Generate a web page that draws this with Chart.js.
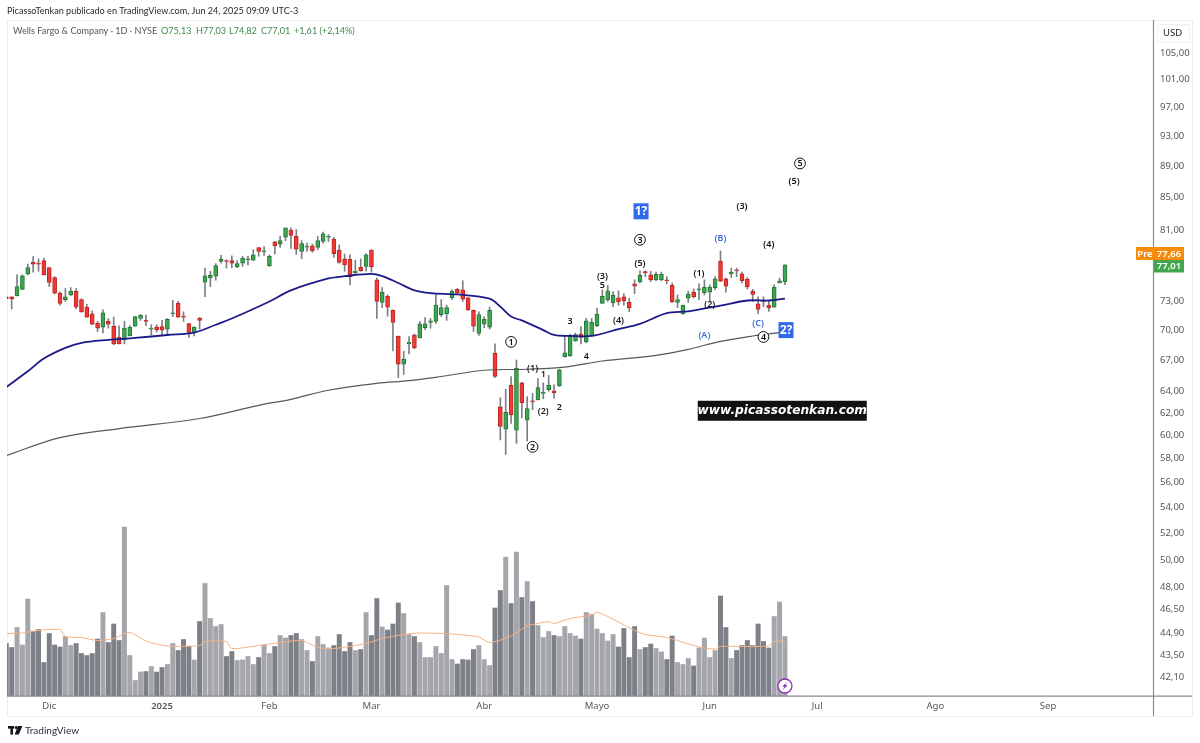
<!DOCTYPE html>
<html><head><meta charset="utf-8">
<style>html,body{margin:0;padding:0;background:#fff}canvas{display:block}</style>
<script src="https://cdn.jsdelivr.net/npm/chart.js@4"></script>
</head><body><div style="width:1200px;height:743px"><canvas id="c" width="1200" height="743"></canvas></div>
<script>
const opens=[73.5,73.5,73.6,74.3,76.0,77.3,77.2,77.5,76.7,75.6,73.9,73.2,73.7,74.1,73.2,72.4,71.7,70.7,70.3,70.9,70.4,69.25,69.0,69.4,70.4,71.2,71.0,70.1,70.3,70.35,70.1,71.7,72.8,71.4,70.67,69.7,71.25,75.1,75.55,75.75,77.4,77.5,77.5,76.8,77.2,77.6,77.55,79.0,78.5,76.9,
79.65,79.4,80.2,81.05,80.3,78.55,79.05,79.2,79.0,79.7,80.2,79.95,78.7,77.7,77.65,76.15,76.75,76.85,78.7,75.35,72.9,73.55,72.05,69.4,66.6,68.6,69.5,69.2,70.25,70.8,70.9,71.6,71.7,73.4,74.3,74.25,73.4,72.05,69.65,70.6,70.3,
67.65,62.55,60.55,64.55,60.45,64.8,61.35,63.1,63.2,63.8,64.15,64.05,64.5,67.3,67.4,68.9,69.6,68.8,69.45,70.45,72.8,73.15,72.85,73.4,73.5,72.9,74.9,75.15,76.2,75.9,75.35,75.35,75.3,74.75,72.9,71.7,73.35,74.0,74.25,73.95,74.0,74.5,77.45,75.45,76.0,76.4,76.0,75.4,74.1,72.75,73.15,72.6,72.4,75.0,75.13];
const closes=[73.3,73.3,74.6,75.8,76.7,77.1,77.1,75.9,75.05,73.9,72.8,73.5,74.1,72.4,71.9,71.35,70.6,70.2,71.8,70.6,68.6,68.6,70.2,70.3,71.4,71.55,70.9,70.2,70.05,70.0,71.1,71.8,71.35,71.35,69.75,70.3,71.0,75.8,75.85,76.95,77.65,77.4,77.2,77.15,77.75,77.7,78.15,78.55,78.5,78.0,
79.2,79.8,81.3,80.4,78.8,79.45,79.1,78.6,79.8,80.6,80.2,78.3,77.3,77.0,75.7,76.3,76.35,78.15,76.8,73.0,74.0,72.4,70.8,66.6,67.1,68.75,68.2,70.65,70.65,70.95,72.6,72.35,72.35,74.1,73.95,73.25,72.1,70.4,71.6,71.1,72.05,
65.4,60.8,62.05,61.85,66.2,62.95,62.4,63.0,64.35,63.85,64.55,63.85,66.05,67.7,69.4,69.55,69.25,70.95,70.8,71.65,73.55,74.15,73.65,72.95,73.05,72.3,74.65,75.85,76.15,75.35,75.95,75.95,75.25,72.95,73.2,72.6,73.8,73.5,74.3,74.55,74.55,75.45,75.2,74.65,76.2,76.35,75.25,74.6,73.75,72.15,73.0,72.3,74.55,75.25,77.01];
const highs=[73.6,73.5,75.9,75.9,77.1,77.95,77.7,77.8,76.7,75.7,74.0,74.4,74.5,74.4,73.3,72.7,72.0,70.9,72.1,71.2,71.35,70.45,70.9,70.45,71.4,71.6,71.55,70.55,70.55,71.0,71.2,73.1,73.0,71.9,70.7,70.35,71.3,76.65,76.3,77.15,78.1,77.6,78.05,77.5,78.0,78.0,78.75,79.0,79.1,78.15,
79.7,80.3,81.3,81.3,81.1,79.8,79.5,79.4,80.3,80.8,80.5,80.2,79.3,78.25,78.15,77.55,77.7,78.3,78.75,75.55,74.5,73.7,72.1,69.4,67.85,69.35,69.6,70.9,71.3,71.2,73.8,73.2,72.6,74.25,74.4,75.25,73.45,72.1,71.9,71.4,72.4,
68.6,63.4,64.2,65.4,67.0,64.85,63.5,63.8,65.2,64.8,65.5,64.6,66.1,69.4,69.6,69.7,70.35,71.2,71.2,72.3,74.25,74.75,74.05,74.15,73.85,73.35,75.35,76.35,76.35,76.3,76.2,76.2,75.7,75.0,73.7,72.6,74.1,74.35,74.9,75.35,74.8,75.7,78.6,75.55,76.65,76.65,76.2,75.6,74.3,73.5,73.5,73.0,74.8,75.55,77.03];
const lows=[73.3,72.2,73.6,74.3,75.9,76.2,76.3,75.9,74.6,73.8,72.6,73.0,73.6,72.2,71.85,71.3,70.55,69.85,69.7,70.2,68.5,68.6,68.6,69.4,70.4,71.0,70.45,69.5,69.8,69.5,69.6,71.4,71.3,70.9,69.25,69.4,70.1,73.5,74.6,75.3,77.2,76.65,76.7,76.7,76.85,77.0,77.5,78.0,78.1,76.85,
78.25,79.0,79.8,78.9,78.2,77.7,78.55,78.45,78.75,79.5,79.7,77.85,77.2,76.3,74.8,76.05,76.3,76.3,76.2,71.2,72.35,71.45,67.9,65.3,65.6,67.6,68.1,69.2,70.05,70.2,70.7,71.4,71.0,73.2,73.85,73.0,72.05,69.85,69.45,70.25,70.1,
65.3,59.6,58.35,61.05,59.3,61.55,59.5,62.3,63.2,63.3,64.0,63.35,64.45,67.3,67.35,68.85,68.6,68.7,69.35,70.35,72.8,73.0,72.45,72.6,72.6,71.9,73.85,75.0,75.7,75.15,75.25,75.25,74.9,72.9,72.35,71.65,72.9,73.35,73.2,73.7,73.0,74.25,75.15,74.0,75.6,75.7,75.0,74.35,73.0,71.7,72.45,71.95,72.35,75.0,74.82];
const volumes=[10.5,9.7,13.7,10.2,19.4,12.9,13.3,6.7,12.5,10.2,9.8,11.9,10.1,10.5,8.5,8.1,8.5,11.4,16.7,10.7,14.4,11.1,33.8,8.1,3.1,4.8,4.9,5.9,4.8,5.7,6.3,10.5,9.1,11.3,9.9,7.2,14.9,22.5,15.5,13.9,14.3,7.9,8.9,7.1,7.2,7.9,6.3,7.7,10.2,8.5,
9.9,12.1,11.6,12.1,12.5,11.3,9.1,6.9,11.9,10.3,9.6,10.1,12.3,8.9,10.7,9.1,9.3,16.7,12.1,19.5,13.8,13.2,14.4,18.6,16.5,12.3,11.9,10.7,7.7,7.7,9.9,8.5,22.1,7.3,6.4,7.3,7.2,9.3,10.1,7.3,6.1,
17.6,21.1,27.8,18.5,28.8,19.7,22.9,18.9,14.1,11.7,12.9,12.1,11.9,13.9,12.5,12.0,11.4,16.7,16.3,13.4,12.5,11.0,12.3,9.8,13.5,7.7,13.9,9.3,9.7,10.4,9.5,8.8,7.3,12.0,6.7,6.3,7.5,6.0,9.6,11.6,7.7,9.1,20.0,13.7,7.5,9.1,10.1,11.1,10.1,14.4,10.9,9.6,15.9,18.8,11.9];
const ma50Bars=[0,4,7,11,14,19,24,30,35,39,42,49,53,60,63,68,70,73,76,79,84,90,92,94,96,100,102,105,109,114,118,123,127,133,138,142,145];
const ma50Vals=[64.4,65.9,67.15,68.2,68.7,69.0,69.2,69.5,69.75,70.55,71.2,73.0,74.2,75.5,75.75,76.0,75.75,75.0,74.2,73.9,73.75,73.3,72.45,71.4,71.0,70.0,69.5,69.4,69.4,70.1,70.65,71.75,71.95,72.55,73.1,73.1,73.3];
const ma200Bars=[0,10,21,36,47,53,60,69,75,81,89,97,104,111,121,127,133,139,144];
const ma200Vals=[58.25,59.8,60.6,61.5,62.7,63.25,64.1,64.75,65.0,65.4,66.0,66.1,66.3,66.9,67.45,68.05,68.85,69.4,69.75];
const volMaBars=[0,3,5,10,11,14,17,20,23,26,30,36,37,41,42,47,55,58,61,67,70,74,77,81,84,88,90,94,97,98,101,102,105,109,110,114,117,119,123,129,132,133,142,143,145];
const volMaVals=[12.5,12.6,13,13.3,11.9,11.7,11.1,11.5,12.7,11,10,10.1,10.9,10.9,9.5,10.1,11.1,9.7,9.5,10.5,11.5,12.3,12.6,12.5,12.3,11.8,10.7,12,14.1,14.3,14.9,14.5,15.5,16.2,16.8,14.8,13.1,12.3,11.7,9.8,9.4,9.9,10,10.9,11];
const priceTicks=[105,101,97,93,89,85,81,73,70,67,64,62,60,58,56,54,52,50,48,46.5,44.9,43.5,42.1];
const monthBars=[8,29,49,68,89,110,131,151,173,194];
const monthLabels=['Dic','2025','Feb','Mar','Abr','Mayo','Jun','Jul','Ago','Sep'];
const waveLabels=[['(1)',98,66.2,'k'],['1',100,65.6,'k'],['(2)',100,62.1,'k'],['2',103,62.5,'k'],['3',105,70.9,'k'],['4',108,67.4,'k'],['(3)',111,75.7,'k'],['5',111,74.7,'k'],['(4)',114,71.0,'k'],['(5)',118,77.2,'k'],['(1)',129,76.1,'k'],['(2)',131,72.7,'k'],['(3)',137,83.9,'k'],['(4)',142,79.3,'k'],['(5)',146.7,87.0,'k'],['(B)',133,80.0,'b'],['(C)',140,70.7,'b'],['(A)',130,69.5,'b']];
const circledLabels=[['1',94,68.8],['2',98,59.0],['3',118,79.9],['4',141,69.3],['5',147.8,89.35]];
const boxLabels=[['1?',118.2,83.3],['2?',145.2,70.0]];
const legendName='Wells Fargo & Company · 1D · NYSE';
const legendValues=[['O75,13',161],['H77,03',196],['L74,82',229],['C77,01',261],['+1,61 (+2,14%)',294]];
const UP='#43a352',UPB='#1f7a35',DN='#ee3b34',DNB='#c2221f';
const FONT='"Noto Sans"';
const TXT='Lato';
const isUp=closes.map((c,i)=>c>=opens[i]);

const overlay={id:'overlay',
 beforeDatasetsDraw(ch){const c=ch.ctx;c.save();
  c.strokeStyle='#eeeef0';c.lineWidth=1;c.strokeRect(7.5,20.5,1185,696);c.restore();},
 afterDraw(ch){const c=ch.ctx,X=ch.scales.x,Y=ch.scales.y,a=ch.chartArea;c.save();
  c.strokeStyle='#8a8c96';c.lineWidth=1.2;
  c.beginPath();c.moveTo(a.left,a.bottom+.2);c.lineTo(1192,a.bottom+.2);c.moveTo(a.right+.5,20);c.lineTo(a.right+.5,716);c.stroke();
  c.textBaseline='middle';c.textAlign='center';
  const px=(i,p)=>[X.getPixelForValue(i),Y.getPixelForValue(p)];
  c.font='600 9px '+FONT;
  waveLabels.forEach(([t,i,p,k])=>{const[x,y]=px(i,p);c.fillStyle=k==='b'?'#3f6fd8':'#16161a';c.fillText(t,x,y);});
  circledLabels.forEach(([t,i,p])=>{const[x,y]=px(i,p);c.beginPath();c.arc(x,y,5.4,0,Math.PI*2);c.fillStyle='#fff';c.fill();c.strokeStyle='#111';c.lineWidth=1;c.stroke();c.fillStyle='#111';c.font='600 9px '+FONT;c.fillText(t,x,y+.3);});
  boxLabels.forEach(([t,i,p])=>{const[x,y]=px(i,p);c.fillStyle='#3268ea';c.fillRect(x-7.5,y-8,15,16);c.fillStyle='#fff';c.font='bold 12px '+FONT;c.fillText(t,x,y);});
  // site banner
  {const[x,y]=px(144.5,62.2);c.fillStyle='#111';c.fillRect(x-84.5,y-10,169,20);c.fillStyle='#fff';c.font='italic bold 12.2px "DejaVu Sans"';c.fillText('www.picassotenkan.com',x,y);}
  // bolt badge
  {const x=X.getPixelForValue(145),y=686;c.beginPath();c.arc(x,y,7,0,Math.PI*2);c.fillStyle='#fff';c.fill();c.strokeStyle='#8e2fb5';c.lineWidth=1.3;c.stroke();
   c.fillStyle='#7d2aa3';c.beginPath();c.moveTo(x+2.4,y-4);c.lineTo(x-2.8,y+.6);c.lineTo(x-.2,y+.6);c.lineTo(x-2.4,y+4);c.lineTo(x+2.8,y-.8);c.lineTo(x+.2,y-.8);c.closePath();c.fill();}
  // price tags
  const boxes=[[1136,247,18,13,'#f78c0c','Pre'],[1154,247,30,13,'#f78c0c','77,66'],[1154,260,30,12.5,'#43a64f','77,01']];
  c.font='600 9.5px '+FONT;
  boxes.forEach(([x,y,w,h,col,t])=>{c.fillStyle=col;c.fillRect(x,y,w,h);c.fillStyle='#fff';c.fillText(t,x+w/2,y+h/2+.3);});
  // header
  c.textAlign='left';c.fillStyle='#2a2a2e';c.font='9.1px '+TXT;
  c.fillText('PicassoTenkan publicado en TradingView.com, Jun 24, 2025 09:09 UTC-3',7,11);
  c.fillStyle='#55585f';c.font='9.1px '+TXT;c.fillText(legendName,13,31.5);
  c.fillStyle='#3f8a4f';legendValues.forEach(([t,x])=>c.fillText(t,x,31.5));
  c.fillStyle='#222';c.font='9.5px '+FONT;c.fillText('USD',1163,33.5);
  c.strokeStyle='#f0f0f2';c.lineWidth=1;c.strokeRect(1157.5,24.5,32,18);
  // footer brand
  c.fillStyle='#131722';c.fillRect(8,726,6,2.6);c.fillRect(10.4,726,2.6,8.6);c.beginPath();c.arc(16.2,727.5,1.6,0,7);c.fill();
  c.beginPath();c.moveTo(18,726);c.lineTo(22.4,726);c.lineTo(18.8,734.6);c.lineTo(14.6,734.6);c.closePath();c.fill();
  c.fillStyle='#2a2e39';c.font='10px '+TXT;c.fillText('TradingView',25,730.5);
  c.restore();}
};

new Chart(document.getElementById('c'),{
 type:'bar',plugins:[overlay],
 data:{datasets:[
  {type:'line',order:1,data:ma50Bars.map((b,i)=>({x:b,y:ma50Vals[i]})),borderColor:'#1c1a8a',borderWidth:1.8,pointRadius:0,tension:.35,yAxisID:'y'},
  {type:'line',order:2,data:ma200Bars.map((b,i)=>({x:b,y:ma200Vals[i]})),borderColor:'#55585c',borderWidth:1.2,pointRadius:0,tension:.35,yAxisID:'y'},
  {type:'bar',order:3,grouped:false,barThickness:4,barPercentage:1,categoryPercentage:1,minBarLength:1,borderWidth:1,borderSkipped:false,
    data:opens.map((o,i)=>({x:i,y:[o,closes[i]]})),
    backgroundColor:isUp.map(u=>u?UP:DN),borderColor:isUp.map(u=>u?UPB:DNB),yAxisID:'y'},
  {type:'bar',order:4,grouped:false,barThickness:1,barPercentage:1,categoryPercentage:1,
    data:highs.map((h,i)=>({x:i,y:[lows[i],h]})),backgroundColor:'#7d7f88',yAxisID:'y'},
  {type:'line',order:5,data:volMaBars.map((b,i)=>({x:b,y:volMaVals[i]})),borderColor:'#f6b184',borderWidth:1,pointRadius:0,tension:.25,yAxisID:'vol'},
  {type:'bar',order:6,grouped:false,barThickness:4.3,barPercentage:1,categoryPercentage:1,
    data:volumes.map((v,i)=>({x:i,y:v})),backgroundColor:isUp.map(u=>u?'#a4a6ac':'#7e8088'),yAxisID:'vol'}
 ]},
 options:{responsive:false,animation:false,events:[],devicePixelRatio:1,
  layout:{padding:{left:7,top:20,right:0,bottom:0}},
  plugins:{legend:{display:false},tooltip:{enabled:false}},
  scales:{
   x:{type:'linear',min:0.13,max:213.54,offset:false,grid:{display:false,drawTicks:false},border:{display:false},
    afterFit(s){s.height=47;},
    afterBuildTicks(s){s.ticks=monthBars.map(v=>({value:v}));},
    ticks:{autoSkip:false,maxRotation:0,padding:5,color:'#55585f',font:c=>({family:'"Noto Sans"',size:9.5,weight:c.tick&&c.tick.value===29?'600':'400'}),
     callback:v=>monthLabels[monthBars.indexOf(v)]}},
   y:{type:'logarithmic',position:'right',min:40.96,max:110.24,grid:{display:false,drawTicks:false},border:{display:false},
    afterFit(s){s.width=47;},
    afterBuildTicks(s){s.ticks=priceTicks.map(v=>({value:v}));},
    ticks:{autoSkip:false,padding:7,color:'#55585f',font:{family:'"Noto Sans"',size:9.5},callback:v=>v.toFixed(2).replace('.',',')}},
   vol:{type:'linear',display:false,position:'right',min:0,max:135.2,grid:{display:false}}
  }}
});
</script></body></html>
